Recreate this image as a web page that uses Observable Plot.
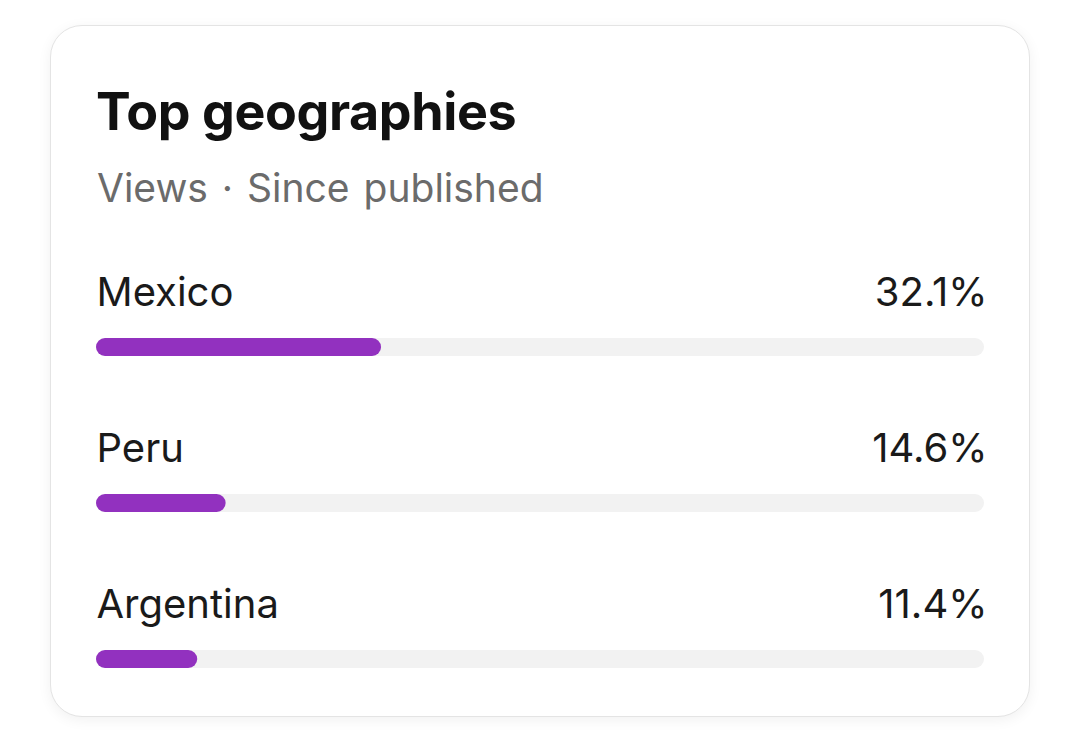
<!DOCTYPE html>
<html>
<head>
<meta charset="utf-8">
<script src="https://cdn.jsdelivr.net/npm/d3@7"></script>
<script src="https://cdn.jsdelivr.net/npm/@observablehq/plot@0.6"></script>
<style>
  html, body { margin: 0; padding: 0; background: #ffffff; width: 1079px; height: 750px; overflow: hidden; font-family: Inter, "Noto Sans", sans-serif; }
  .card { position: absolute; left: 50px; top: 25px; width: 978px; height: 690px; border: 1px solid #e4e4e4; border-radius: 32px; background: #fff; box-shadow: 0 3px 14px rgba(0,0,0,0.06); }
  .title { position: absolute; left: 96px; top: 86px; font-size: 52px; line-height: 1; font-weight: 700; color: #111; letter-spacing: -0.4px; white-space: nowrap; }
  .subtitle { position: absolute; left: 97px; top: 168px; font-size: 39px; line-height: 1; color: #6b6b6b; white-space: nowrap; word-spacing: 3px; }
  #chart { position: absolute; left: 0; top: 250px; }
</style>
</head>
<body>
<div class="card"></div>
<div class="title">Top geographies</div>
<div class="subtitle">Views · Since published</div>
<div id="chart"></div>
<script>
const countries = ["Mexico", "Peru", "Argentina"];
const shares = [32.1, 14.6, 11.4];
const valueLabels = ["32.1%", "14.6%", "11.4%"];

const data = countries.map((c, i) => ({country: c, share: shares[i], label: valueLabels[i]}));

const chart = Plot.plot({
  width: 1079,
  height: 480,
  marginLeft: 96,
  marginRight: 95,
  marginTop: 0,
  marginBottom: 0,
  style: {fontFamily: "Inter, 'Noto Sans', sans-serif", background: "transparent", overflow: "visible"},
  x: {domain: [0, 100], axis: null},
  y: {type: "band", domain: countries, range: [19, 487], paddingInner: 0.8846, paddingOuter: 0.4423, axis: null},
  marks: [
    Plot.barX(data, {y: "country", x1: d => 0, x2: d => 100, fill: "#f2f2f2", rx: 9}),
    Plot.barX(data, {y: "country", x1: d => 0, x2: "share", fill: "#9231bf", rx: 9}),
    Plot.text(data, {y: "country", x: d => 0, text: "country", textAnchor: "start", lineAnchor: "bottom", dy: -42, fontSize: 40, fill: "#1a1a1a"}),
    Plot.text(data, {y: "country", x: d => 100, text: "label", textAnchor: "end", lineAnchor: "bottom", dy: -42, dx: 3, fontSize: 40, fill: "#1a1a1a", style: "letter-spacing:-0.5px"})
  ]
});
document.getElementById("chart").appendChild(chart);
</script>
</body>
</html>
